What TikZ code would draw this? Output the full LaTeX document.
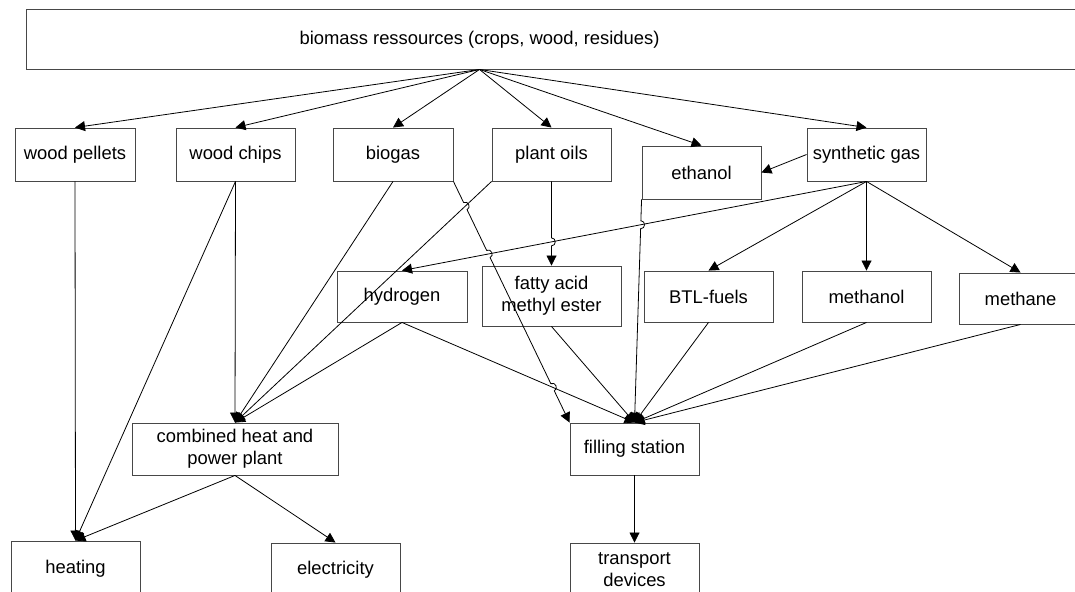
\documentclass[tikz,border=0pt]{standalone}
\usepackage{fontspec}
\setmainfont{Liberation Sans}
\usetikzlibrary{arrows.meta,calc,intersections}
\tikzset{
  box/.style={draw=black!72, line width=0.9pt, inner sep=0pt, align=center,
    font=\fontsize{18.4}{22}\selectfont},
  lbl/.style={inner sep=0pt, font=\fontsize{18.4}{22}\selectfont},
  conn/.style={draw=black, line width=0.8pt, -{Triangle[length=10pt,width=10pt]}},
  jmp/.style={bend left=90, looseness=1.6}
}
\begin{document}
\begin{tikzpicture}[x=1pt,y=-1pt]
\useasboundingbox (0,0) rectangle (1075,591);
\clip (0,0) rectangle (1075,591);

% boxes
\node[box, minimum width=1074pt, minimum height=60pt] (top) at (563,39) {};
\node[lbl] (toptext) at (479.5,40) {biomass ressources (crops, wood, residues)};
\coordinate (src) at (toptext |- top.south);

\node[box, minimum width=120pt, minimum height=53pt] (pel)  at (75,154.5)    {wood pellets};
\node[box, minimum width=119pt, minimum height=53pt] (chip) at (235.5,154.5) {wood chips};
\node[box, minimum width=120pt, minimum height=53pt] (bio)  at (393,154.5)   {biogas};
\node[box, minimum width=119pt, minimum height=53pt] (oil)  at (551.5,154.5) {plant oils};
\node[box, minimum width=119pt, minimum height=53pt] (eth)  at (701.5,172.5) {ethanol};
\node[box, minimum width=119pt, minimum height=53pt] (syn)  at (866.5,154.5) {synthetic gas};

\node[box, minimum width=130pt, minimum height=51pt] (hyd)  at (402,296.5)   {hydrogen};
\node[box, minimum width=139pt, minimum height=60pt] (fame) at (551.5,296)   {fatty acid\\methyl ester};
\node[box, minimum width=129pt, minimum height=51pt] (btl)  at (708.5,296.5) {BTL-fuels};
\node[box, minimum width=129pt, minimum height=51pt] (mol)  at (866.5,296.5) {methanol};
\node[box, minimum width=123pt, minimum height=51pt] (mane) at (1020.5,298.5) {methane};

\node[box, minimum width=206pt, minimum height=52pt] (chp)  at (235,449)     {combined heat and\\power plant};
\node[box, minimum width=129pt, minimum height=52pt] (fill) at (634.5,449)   {filling station};

\node[box, minimum width=129pt, minimum height=55pt] (heat)  at (75.5,568.5)  {heating};
\node[box, minimum width=129pt, minimum height=53pt] (elec)  at (335.5,569.5) {electricity};
\node[box, minimum width=129pt, minimum height=53pt] (trans) at (634.5,569.5) {transport\\devices};

% fan from resources
\foreach \t in {pel,chip,bio,oil,eth,syn}
  \draw[conn] (src) -- (\t.north);

% synthetic gas
\draw[conn] (syn.west) -- (eth.east);
\draw[conn, name path=sh] (syn.south) -- (hyd.north);
\draw[conn] (syn.south) -- (btl.north);
\draw[conn] (syn.south) -- (mol.north);
\draw[conn] (syn.south) -- (mane.north);

% heating / chp
\draw[conn] (pel.south) -- (heat.north);
\draw[conn] (chip.south) -- (chp.north);
\draw[conn] (chip.south) -- (heat.north);
\draw[conn] (bio.south) -- (chp.north);
\draw[conn, name path=pc] (oil.south west) -- (chp.north);
\draw[conn] (hyd.south) -- (chp.north);
\draw[conn] (chp.south) -- (heat.north);
\draw[conn] (chp.south) -- (elec.north);

% filling station
\draw[conn, name path=hf] (hyd.south) -- (fill.north);
\draw[conn] (fame.south) -- (fill.north);
\draw[conn] (btl.south) -- (fill.north);
\draw[conn] (mol.south) -- (fill.north);
\draw[conn] (mane.south) -- (fill.north);
\draw[conn] (fill.south) -- (trans.north);

% lines with jumps
\path[name path=of] (oil.south) -- (fame.north);
\path[name path=ef] (eth.south west) -- (fill.north);
\path[name path=bf] (bio.south east) -- (fill.north west);
\path[name intersections={of=bf and pc, by=J1}];
\path[name intersections={of=bf and sh, by=J2}];
\path[name intersections={of=bf and hf, by=J5}];
\path[name intersections={of=of and sh, by=J3}];
\path[name intersections={of=ef and sh, by=J4}];

\draw[conn] (oil.south) -- ($(J3)!4pt!(oil.south)$)
  to[jmp] ($(J3)!4pt!(fame.north)$) -- (fame.north);
\draw[conn] (eth.south west) -- ($(J4)!4pt!(eth.south west)$)
  to[jmp] ($(J4)!4pt!(fill.north)$) -- (fill.north);
\draw[conn] (bio.south east) -- ($(J1)!4pt!(bio.south east)$)
  to[jmp] ($(J1)!4pt!(fill.north west)$) -- ($(J2)!4pt!(bio.south east)$)
  to[jmp] ($(J2)!4pt!(fill.north west)$) -- ($(J5)!4pt!(bio.south east)$)
  to[jmp] ($(J5)!4pt!(fill.north west)$) -- (fill.north west);
\end{tikzpicture}
\end{document}
